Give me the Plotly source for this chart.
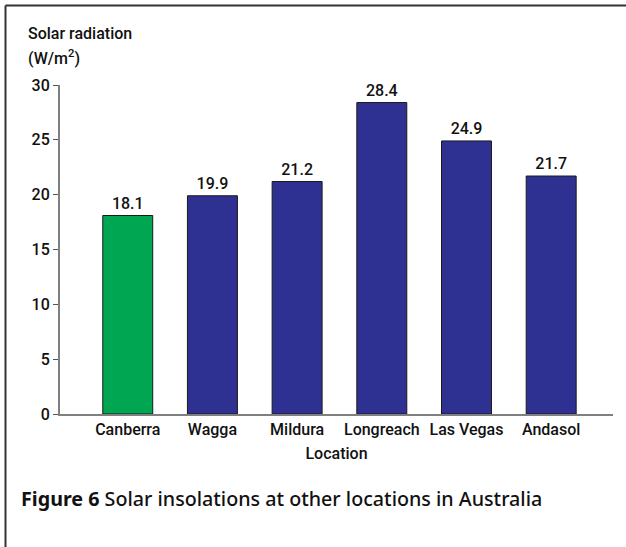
import plotly.graph_objects as go

locations = ["Canberra", "Wagga", "Mildura", "Longreach", "Las Vegas", "Andasol"]
radiation = [18.1, 19.9, 21.2, 28.4, 24.9, 21.7]
bar_colors = ["#00A651", "#2E3192", "#2E3192", "#2E3192", "#2E3192", "#2E3192"]
y_ticks = [0, 5, 10, 15, 20, 25, 30]

FONT = "Roboto, Liberation Sans, sans-serif"
FS = 16
TXT = dict(family=FONT, size=FS, color="#111", weight=500)

W, H = 626, 547
L, R, T, B = 60, 13, 85, 133
pw, ph = W - L - R, H - T - B

def px_x(x):
    return (x - L) / pw

def px_y(y):
    return (H - B - y) / ph

fig = go.Figure()
fig.add_trace(go.Bar(
    x=locations,
    y=radiation,
    marker=dict(color=bar_colors, line=dict(color="#1a1a1a", width=1)),
    width=0.59,
    text=[f"{v:.1f}" for v in radiation],
    textposition="outside",
    textfont=TXT,
    cliponaxis=False,
))

fig.update_layout(
    width=W, height=H,
    margin=dict(l=L, r=R, t=T, b=B, pad=0),
    paper_bgcolor="white", plot_bgcolor="white",
    showlegend=False,
    font=TXT,
    xaxis=dict(
        range=[-0.8, 5.73],
        showline=True, linecolor="#808080", linewidth=2,
        ticks="", showgrid=False, zeroline=False,
        tickfont=TXT,
        title=dict(text="Location", font=TXT, standoff=10),
    ),
    yaxis=dict(
        range=[0, 30],
        tickvals=y_ticks,
        showline=True, linecolor="#808080", linewidth=2,
        ticks="outside", ticklen=5, tickcolor="#555", tickwidth=1,
        showgrid=False, zeroline=False,
        tickfont=TXT,
    ),
    shapes=[
        dict(type="line", xref="paper", yref="paper",
             x0=px_x(5.5), x1=px_x(W + 5), y0=px_y(5.5), y1=px_y(5.5),
             line=dict(color="#333", width=2)),
        dict(type="line", xref="paper", yref="paper",
             x0=px_x(5.5), x1=px_x(5.5), y0=px_y(5.5), y1=px_y(H + 5),
             line=dict(color="#333", width=2)),
    ],
    annotations=[
        dict(text="Solar radiation", xref="paper", yref="paper",
             x=px_x(26), y=px_y(33), xanchor="left", yanchor="middle",
             showarrow=False, font=TXT),
        dict(text="(W/m<sup>2</sup>)", xref="paper", yref="paper",
             x=px_x(26), y=px_y(57), xanchor="left", yanchor="middle",
             showarrow=False, font=TXT),
        dict(text="<b>Figure 6</b> Solar insolations at other locations in Australia",
             xref="paper", yref="paper",
             x=px_x(19), y=px_y(498), xanchor="left", yanchor="middle",
             showarrow=False, font=dict(family="Noto Sans, Open Sans, sans-serif", size=19.7, color="#111")),
    ],
)

fig.write_html("out.html", config={"displayModeBar": False},
               post_script="document.body.style.margin='0';document.body.style.overflow='hidden';")
